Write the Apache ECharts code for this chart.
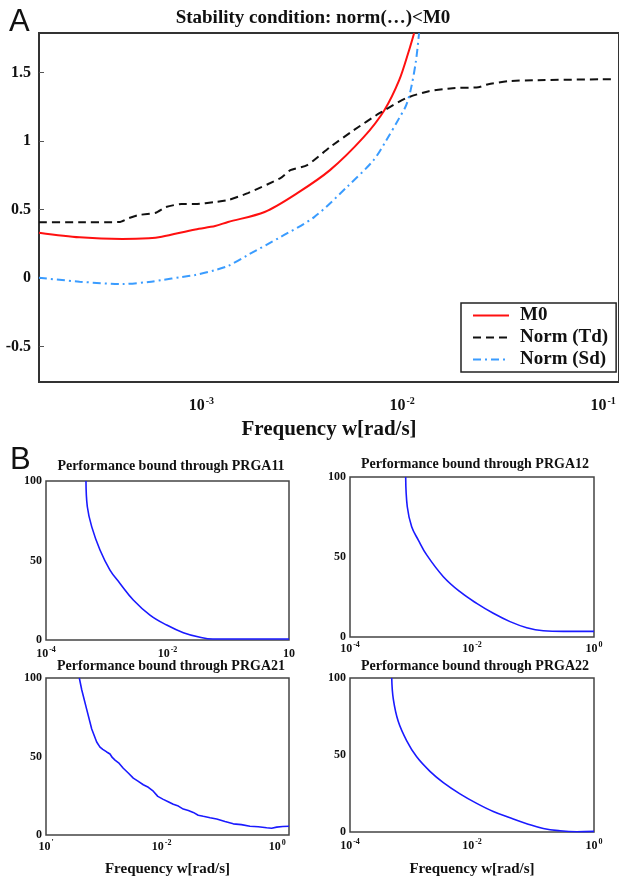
<!DOCTYPE html>
<html><head><meta charset="utf-8">
<script src="https://cdn.jsdelivr.net/npm/echarts@6/dist/echarts.min.js"></script>
<style>html,body{margin:0;padding:0;background:#fff}#c{width:619px;height:878px}</style>
</head><body><div id="c"></div>
<script>
// ---------- Panel A data ----------
const m0Freq = [1.556e-4, 2.477e-4, 4.04e-4, 5.48e-4, 6.35e-4, 9.34e-4, 1.172e-3, 1.358e-3, 2.066e-3, 3.005e-3, 4.37e-3, 6.43e-3, 8.15e-3, 9.66e-3, 1.082e-2, 1.146e-2];
const m0Val  = [0.331, 0.297, 0.285, 0.290, 0.301, 0.355, 0.380, 0.409, 0.482, 0.620, 0.788, 1.029, 1.226, 1.445, 1.664, 1.788];

const tdFreq = [1.556e-4, 2.477e-4, 3.90e-4, 4.37e-4, 4.89e-4, 5.93e-4, 6.65e-4, 7.97e-4, 9.34e-4, 1.172e-3, 1.358e-3, 1.705e-3, 2.478e-3, 2.775e-3, 3.366e-3, 4.37e-3, 5.74e-3, 7.71e-3, 1.047e-2, 1.358e-2, 1.783e-2, 2.394e-2, 2.683e-2, 3.366e-2, 4.57e-2, 0.112];
const tdVal  = [0.407, 0.407, 0.409, 0.438, 0.460, 0.477, 0.518, 0.540, 0.540, 0.555, 0.569, 0.620, 0.730, 0.788, 0.825, 0.956, 1.080, 1.204, 1.314, 1.365, 1.387, 1.394, 1.416, 1.438, 1.445, 1.453];

const sdFreq = [1.556e-4, 2.477e-4, 4.04e-4, 5.48e-4, 6.35e-4, 7.97e-4, 9.34e-4, 1.172e-3, 1.358e-3, 1.705e-3, 2.478e-3, 3.646e-3, 5.30e-3, 7.20e-3, 8.34e-3, 9.66e-3, 1.047e-2, 1.107e-2, 1.172e-2, 1.213e-2];
const sdVal  = [0.002, -0.027, -0.044, -0.029, -0.015, 0.007, 0.022, 0.058, 0.088, 0.168, 0.299, 0.445, 0.664, 0.861, 1.007, 1.168, 1.263, 1.387, 1.591, 1.788];

const seriesNames = ['M0', 'Norm (Td)', 'Norm (Sd)'];
const topYTicks = [-0.5, 0, 0.5, 1, 1.5];
const topXTickVals = [0.001, 0.01, 0.1];
const topXTickExps = ['-3', '-2', '-1'];

// ---------- Panel B data ----------
const p11Freq = [4.55e-4, 4.79e-4, 5.65e-4, 7.74e-4, 1.130e-3, 1.652e-3, 2.735e-3, 5.15e-3, 9.70e-3, 1.824e-2, 3.43e-2, 5.61e-2, 1];
const p11Val  = [100, 83.8, 71.3, 56.6, 44, 35.6, 25.2, 15.7, 9.4, 4.6, 1.7, 0.6, 0.6];

const p12Freq = [8.18e-4, 8.69e-4, 1.026e-3, 1.318e-3, 1.807e-3, 3.39e-3, 6.35e-3, 1.194e-2, 2.234e-2, 4.20e-2, 7.89e-2, 0.1476, 0.314, 1];
const p12Val  = [100, 81.4, 68.9, 60.6, 51.3, 37.7, 28.3, 21, 14.8, 9.6, 5.8, 3.9, 3.5, 3.5];

const p21Freq = [3.77e-4, 4.15e-4, 5.06e-4, 6.18e-4, 7.53e-4, 8.59e-4, 9.6e-4, 1.122e-3, 1.28e-3, 1.40e-3, 1.563e-3, 1.85e-3, 2.173e-3, 2.65e-3, 3.236e-3, 3.9e-3, 4.82e-3, 5.9e-3, 7.18e-3, 8.6e-3, 1.069e-2, 1.3e-2, 1.592e-2, 1.95e-2, 2.371e-2, 2.9e-2, 3.53e-2, 4.3e-2, 5.26e-2, 6.9e-2, 8.97e-2, 0.125, 0.1738, 0.24, 0.338, 0.47, 0.658, 0.80, 0.980, 1.25, 1.6];
const p21Val  = [100, 92.5, 80, 67.5, 59.2, 56, 54.5, 52.9, 51.6, 49.4, 47.7, 45.6, 42.5, 39.5, 36.2, 34.3, 32, 30.4, 27.9, 24.6, 22.7, 21.2, 19.6, 18.4, 16.5, 15.6, 14.4, 12.6, 11.9, 11.0, 10.2, 8.6, 7.1, 6.6, 5.6, 5.3, 4.6, 4.3, 5.0, 5.4, 5.6];

const p22Freq = [4.83e-4, 5.13e-4, 6.19e-4, 8.51e-4, 1.239e-3, 2.046e-3, 3.39e-3, 6.35e-3, 1.194e-2, 2.234e-2, 4.20e-2, 7.89e-2, 0.1476, 0.277, 0.520, 1];
const p22Val  = [100, 86.3, 71.7, 59.2, 48.8, 39.4, 32.1, 24.8, 18.6, 13.3, 9.2, 5.4, 2.3, 0.8, 0.2, 0.4];

const panelTitles = ['Performance bound through PRGA11', 'Performance bound through PRGA12', 'Performance bound through PRGA21', 'Performance bound through PRGA22'];
const bXTickVals = [1e-4, 1e-2, 1];
const p11TickExps = ['-4', '-2', ''];
const p12TickExps = ['-4', '-2', '0'];
const p21TickExps = ["'", '-2', '0'];
const p22TickExps = ['-4', '-2', '0'];
const xName = 'Frequency w[rad/s]';

// ---------- helpers ----------
const SERIF = 'Liberation Serif';
function pairs(xs, ys) { return xs.map((x, i) => [x, ys[i]]); }
function supFmt(vals, exps) {
  return function (v) {
    for (let i = 0; i < vals.length; i++) {
      if (Math.abs(Math.log10(v) - Math.log10(vals[i])) < 1e-6) {
        return exps[i] ? '{b|10}{s|' + exps[i] + '}' : '{b|10}';
      }
    }
    return '';
  };
}
function richFor(big, small) {
  return {
    b: { fontFamily: SERIF, fontWeight: 'bold', fontSize: big, color: '#111', lineHeight: big + 2, verticalAlign: 'bottom' },
    s: { fontFamily: SERIF, fontWeight: 'bold', fontSize: small, color: '#111', lineHeight: big + 2, verticalAlign: 'top', padding: [0, 0, 0, 1] }
  };
}

const chart = echarts.init(document.getElementById('c'), null, { renderer: 'canvas' });

const grids = [
  { left: 39, top: 33, width: 586, height: 349 },
  { left: 46, top: 481, width: 243, height: 159 },
  { left: 350, top: 477, width: 244, height: 160 },
  { left: 46, top: 678, width: 243, height: 160 },
  { left: 350, top: 678, width: 244, height: 160 }
].map((g, i) => Object.assign({ show: true, borderColor: i === 0 ? '#333' : '#444', borderWidth: i === 0 ? 2 : 1.5, backgroundColor: 'transparent' }, g));

const bExps = [p11TickExps, p12TickExps, p21TickExps, p22TickExps];
const bMax = [1, 1, 1.6, 1];
const bNameGap = [0, 0, 27, 30];
const bLabelMargin = [6, 4, 4, 6];

const xAxes = [{
  type: 'log', logBase: 10, gridIndex: 0, min: 1.556e-4, max: 0.12,
  axisLine: { show: false }, axisTick: { show: false }, splitLine: { show: false }, minorTick: { show: false },
  axisLabel: { formatter: supFmt(topXTickVals, topXTickExps), rich: richFor(16, 10), margin: 14, showMinLabel: false, showMaxLabel: false },
  name: xName, nameLocation: 'middle', nameGap: 37,
  nameTextStyle: { fontFamily: SERIF, fontWeight: 'bold', fontSize: 21, color: '#111' }
}];
for (let i = 0; i < 4; i++) {
  xAxes.push({
    type: 'log', logBase: 10, gridIndex: i + 1, min: 1e-4, max: bMax[i],
    axisLine: { show: false }, axisTick: { show: false }, splitLine: { show: false },
    axisLabel: { formatter: supFmt(bXTickVals, bExps[i]), rich: richFor(12, 8), margin: bLabelMargin[i], showMaxLabel: bMax[i] === 1 },
    name: i >= 2 ? xName : '', nameLocation: 'middle', nameGap: bNameGap[i],
    nameTextStyle: { fontFamily: SERIF, fontWeight: 'bold', fontSize: 15, color: '#111' }
  });
}

const yAxes = [{
  type: 'value', gridIndex: 0, min: -0.76, max: 1.79,
  axisLine: { show: false }, splitLine: { show: false },
  axisTick: { show: true, inside: true, length: 5, customValues: topYTicks, lineStyle: { color: '#555', width: 1 } },
  axisLabel: { customValues: topYTicks, fontFamily: SERIF, fontWeight: 'bold', fontSize: 16, color: '#111', margin: 8 }
}];
for (let i = 0; i < 4; i++) {
  yAxes.push({
    type: 'value', gridIndex: i + 1, min: 0, max: 100, interval: 50,
    axisLine: { show: false }, splitLine: { show: false }, axisTick: { show: false },
    axisLabel: { fontFamily: SERIF, fontWeight: 'bold', fontSize: 12, color: '#111', margin: 4 }
  });
}

const bSeriesData = [pairs(p11Freq, p11Val), pairs(p12Freq, p12Val), pairs(p21Freq, p21Val), pairs(p22Freq, p22Val)];

const series = [
  { name: seriesNames[0], type: 'line', xAxisIndex: 0, yAxisIndex: 0, data: pairs(m0Freq, m0Val), showSymbol: false, smooth: 0.3,
    lineStyle: { color: '#ff1010', width: 2 }, itemStyle: { color: '#ff1010' } },
  { name: seriesNames[1], type: 'line', xAxisIndex: 0, yAxisIndex: 0, data: pairs(tdFreq, tdVal), showSymbol: false, smooth: 0.2,
    lineStyle: { color: '#111', width: 2, type: [8, 5] }, itemStyle: { color: '#111' } },
  { name: seriesNames[2], type: 'line', xAxisIndex: 0, yAxisIndex: 0, data: pairs(sdFreq, sdVal), showSymbol: false, smooth: 0.3,
    lineStyle: { color: '#3a9cff', width: 2, type: [8, 4, 2, 4] }, itemStyle: { color: '#3a9cff' } }
];
for (let i = 0; i < 4; i++) {
  series.push({ name: panelTitles[i], type: 'line', xAxisIndex: i + 1, yAxisIndex: i + 1, data: bSeriesData[i], showSymbol: false,
    smooth: i === 2 ? false : 0.4, lineStyle: { color: '#1a1aff', width: 1.6 }, itemStyle: { color: '#1a1aff' } });
}

const titleStyleB = { fontFamily: SERIF, fontWeight: 'bold', fontSize: 14, color: '#111' };
const option = {
  animation: false,
  backgroundColor: '#fff',
  title: [
    { text: 'A', left: 4, top: 2, textStyle: { fontFamily: 'Liberation Sans', fontWeight: 'normal', fontSize: 31, color: '#111' } },
    { text: 'B', left: 5, top: 440, textStyle: { fontFamily: 'Liberation Sans', fontWeight: 'normal', fontSize: 31, color: '#111' } },
    { text: 'Stability condition: norm(…)<M0', left: 308, top: 4, textAlign: 'center', textStyle: { fontFamily: SERIF, fontWeight: 'bold', fontSize: 19, color: '#111' } },
    { text: panelTitles[0], left: 166, top: 454, textAlign: 'center', textStyle: titleStyleB },
    { text: panelTitles[1], left: 470, top: 452, textAlign: 'center', textStyle: titleStyleB },
    { text: panelTitles[2], left: 166, top: 654, textAlign: 'center', textStyle: titleStyleB },
    { text: panelTitles[3], left: 470, top: 654, textAlign: 'center', textStyle: titleStyleB }
  ],
  legend: {
    data: seriesNames, orient: 'vertical', left: 461, top: 303,
    padding: [3, 8, 3, 11], itemGap: 3, itemWidth: 36, itemHeight: 14,
    borderColor: '#222', borderWidth: 1.5, backgroundColor: '#fff',
    itemStyle: { opacity: 0 },
    textStyle: { fontFamily: SERIF, fontWeight: 'bold', fontSize: 19, color: '#111', padding: [0, 0, 0, 6] },
    selectedMode: false
  },
  grid: grids,
  xAxis: xAxes,
  yAxis: yAxes,
  series: series
};
chart.setOption(option);
</script>
</body></html>
